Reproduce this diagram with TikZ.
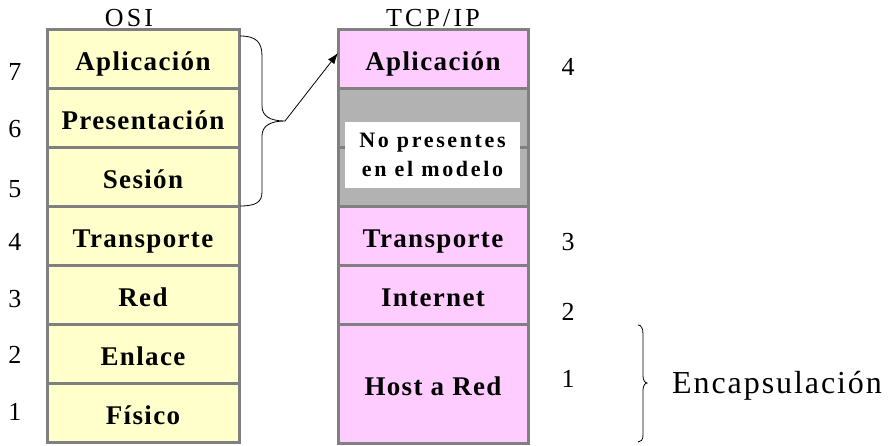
\documentclass[tikz,border=0pt]{standalone}
\usepackage{fontspec}
\setmainfont{Liberation Serif}
\newfontfamily\lblfont[LetterSpace=5]{Liberation Serif}
\newfontfamily\notefont[LetterSpace=12]{Liberation Serif}
\newfontfamily\ttlfont[LetterSpace=12]{Liberation Serif}
\newfontfamily\encfont[LetterSpace=6]{Liberation Serif}
\usetikzlibrary{arrows.meta}
\definecolor{osiyellow}{HTML}{FFFFCC}
\definecolor{tcppink}{HTML}{FFCCFF}
\definecolor{notgray}{HTML}{B2B2B2}
\definecolor{bordergray}{HTML}{808080}
\tikzset{
  layer/.style={rectangle, draw=bordergray, line width=3pt, inner sep=0pt,
    text height=23pt, text depth=0pt,
    font=\lblfont\fontsize{27}{31}\selectfont\bfseries},
  osilayer/.style={layer, fill=osiyellow, minimum width=192pt, minimum height=59.14pt},
  tcplayer/.style={layer, fill=tcppink, minimum width=190pt, minimum height=59.14pt},
  tcpdouble/.style={tcplayer, minimum height=118.3pt},
  grayrow/.style={rectangle, draw=bordergray, line width=3pt, fill=notgray,
    minimum width=190pt, minimum height=59.14pt},
  notebox/.style={rectangle, fill=white, minimum width=175pt, minimum height=66pt,
    inner sep=0pt, align=center, font=\notefont\fontsize{22}{29}\selectfont\bfseries},
  num/.style={anchor=base, inner sep=0pt, font=\fontsize{26}{30}\selectfont},
  title/.style={anchor=base, inner sep=0pt, font=\ttlfont\fontsize{26}{30}\selectfont},
  bracepath/.style={draw=black, line width=0.8pt},
}
\begin{document}
\begin{tikzpicture}[x=1pt, y=-1pt]
\useasboundingbox (0,0) rectangle (888,445);
% OSI column
\node[osilayer] (o7) at (143,58.6) {Aplicación};
\node[osilayer] (o6) at (143,117.7) {Presentación};
\node[osilayer] (o5) at (143,176.9) {Sesión};
\node[osilayer] (o4) at (143,236) {Transporte};
\node[osilayer] (o3) at (143,295.1) {Red};
\node[osilayer] (o2) at (143,354.3) {Enlace};
\node[osilayer] (o1) at (143,413.4) {Físico};
% TCP/IP column
\node[tcplayer] (t4) at (433,58.6) {Aplicación};
\node[grayrow] (g1) at (433,117.7) {};
\node[grayrow] (g2) at (433,176.9) {};
\node[notebox] (np) at (432.5,155) {No presentes\\en el modelo};
\node[tcplayer] (t3) at (433,236) {Transporte};
\node[tcplayer] (t2) at (433,295.1) {Internet};
\node[tcpdouble] (t1) at (433,384) {Host a Red};
% titles
\node[title] (tosi) at (129,26) {OSI};
\node[title] (ttcp) at (433,26) {TCP/IP};
% numbers
\node[num] (n7) at (15,80) {7};
\node[num] (n6) at (15,137) {6};
\node[num] (n5) at (15,197) {5};
\node[num] (n4) at (15,250) {4};
\node[num] (n3) at (15,307) {3};
\node[num] (n2) at (15,363) {2};
\node[num] (n1) at (15,420) {1};
\node[num] (m4) at (568,75) {4};
\node[num] (m3) at (568,250) {3};
\node[num] (m2) at (568,320) {2};
\node[num] (m1) at (568,387) {1};
% left brace and arrow
\coordinate (lbTop) at (240,36);
\coordinate (lbTip) at (285,121);
\coordinate (lbBot) at (240,206);
\coordinate (arrEnd) at (338,53);
\draw[bracepath] (lbTop) .. controls (256,36) and (262,42) .. (262,56) -- (262,106)
  .. controls (262,116) and (270,121) .. (lbTip)
  .. controls (270,121) and (262,126) .. (262,136) -- (262,192)
  .. controls (262,202) and (256,206) .. (lbBot);
\draw[line width=0.8pt, -{Latex[length=11pt,width=8pt]}] (lbTip) -- (arrEnd);
% right brace
\coordinate (rbTop) at (638,325);
\coordinate (rbTip) at (647,383);
\coordinate (rbBot) at (638,442);
\draw[bracepath] (rbTop) .. controls (641,325) and (643,328) .. (643,334) -- (643,376)
  .. controls (643,380) and (645,383) .. (rbTip)
  .. controls (645,383) and (643,386) .. (643,390) -- (643,435)
  .. controls (643,440) and (641,442) .. (rbBot);
\node[anchor=base west, inner sep=0pt, font=\encfont\fontsize{32}{36}\selectfont] (enc) at (672,393) {Encapsulación};
\end{tikzpicture}
\end{document}
